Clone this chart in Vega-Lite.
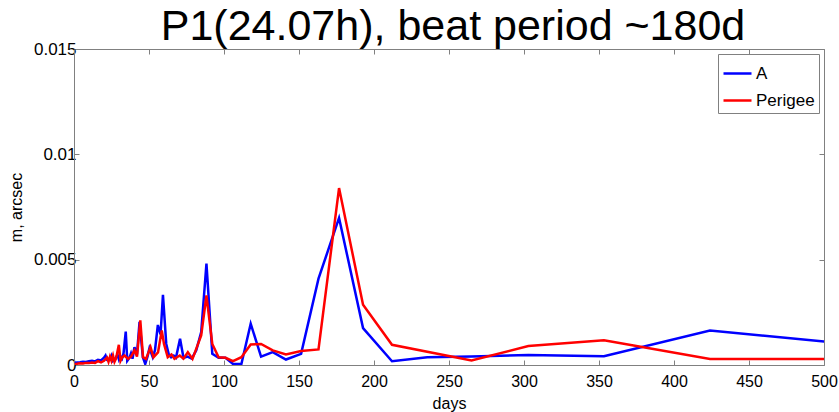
{
  "$schema": "https://vega.github.io/schema/vega-lite/v6.json",
  "autosize": "none",
  "padding": {"left": 74, "top": 49, "right": 15, "bottom": 47},
  "width": 750,
  "height": 316,
  "background": "white",
  "title": {
    "text": "P1(24.07h), beat period ~180d",
    "font": "Liberation Sans",
    "fontSize": 43,
    "fontWeight": "normal",
    "color": "black",
    "anchor": "middle",
    "baseline": "bottom",
    "offset": 0,
    "dx": 4,
    "dy": 52
  },
  "config": {
    "view": {"stroke": null},
    "font": "Liberation Sans",
    "axis": {
      "domainColor": "#808080",
      "tickColor": "#808080",
      "tickSize": -5,
      "grid": false,
      "labelFont": "Liberation Sans",
      "labelFontSize": 16,
      "labelColor": "black",
      "titleFont": "Liberation Sans",
      "titleFontSize": 16,
      "titleFontWeight": "normal",
      "titleColor": "black"
    },
    "legend": {
      "orient": "top-right",
      "offset": 5,
      "padding": 4,
      "strokeColor": "#808080",
      "fillColor": "white",
      "labelFont": "Liberation Sans",
      "labelFontSize": 17,
      "labelColor": "black",
      "labelOffset": 3,
      "rowPadding": 3,
      "symbolType": "stroke",
      "symbolSize": 784,
      "symbolStrokeWidth": 2.5,
      "title": null
    }
  },
  "data": {
    "values": [
      {"d": 0.5, "m": 0.00010, "s": "A"},
      {"d": 2, "m": 0.00012, "s": "A"},
      {"d": 4, "m": 0.00013, "s": "A"},
      {"d": 6, "m": 0.00015, "s": "A"},
      {"d": 8, "m": 0.00014, "s": "A"},
      {"d": 10, "m": 0.00018, "s": "A"},
      {"d": 12, "m": 0.00020, "s": "A"},
      {"d": 14, "m": 0.00017, "s": "A"},
      {"d": 16, "m": 0.00025, "s": "A"},
      {"d": 18, "m": 0.00022, "s": "A"},
      {"d": 20, "m": 0.00035, "s": "A"},
      {"d": 21, "m": 0.00045, "s": "A"},
      {"d": 22, "m": 0.00025, "s": "A"},
      {"d": 24, "m": 0.00030, "s": "A"},
      {"d": 25, "m": 0.00045, "s": "A"},
      {"d": 26, "m": 0.00020, "s": "A"},
      {"d": 28, "m": 0.00035, "s": "A"},
      {"d": 29, "m": 0.00050, "s": "A"},
      {"d": 30, "m": 0.00025, "s": "A"},
      {"d": 31, "m": 0.00040, "s": "A"},
      {"d": 32, "m": 0.00030, "s": "A"},
      {"d": 33, "m": 0.00055, "s": "A"},
      {"d": 34.5, "m": 0.00159, "s": "A"},
      {"d": 35.5, "m": 0.00020, "s": "A"},
      {"d": 37, "m": 0.00035, "s": "A"},
      {"d": 38, "m": 0.00055, "s": "A"},
      {"d": 39, "m": 0.00030, "s": "A"},
      {"d": 40.3, "m": 0.00085, "s": "A"},
      {"d": 42, "m": 0.00050, "s": "A"},
      {"d": 43.7, "m": 0.00205, "s": "A"},
      {"d": 45.9, "m": 0.00037, "s": "A"},
      {"d": 47.5, "m": 0.00005, "s": "A"},
      {"d": 49, "m": 0.00040, "s": "A"},
      {"d": 50.3, "m": 0.00080, "s": "A"},
      {"d": 52.5, "m": 0.00037, "s": "A"},
      {"d": 54, "m": 0.00070, "s": "A"},
      {"d": 55.9, "m": 0.00190, "s": "A"},
      {"d": 57.7, "m": 0.00145, "s": "A"},
      {"d": 59.3, "m": 0.00333, "s": "A"},
      {"d": 61.5, "m": 0.00100, "s": "A"},
      {"d": 63, "m": 0.00055, "s": "A"},
      {"d": 64.8, "m": 0.00037, "s": "A"},
      {"d": 66.5, "m": 0.00045, "s": "A"},
      {"d": 68, "m": 0.00035, "s": "A"},
      {"d": 70.7, "m": 0.00125, "s": "A"},
      {"d": 73, "m": 0.00034, "s": "A"},
      {"d": 75.7, "m": 0.00040, "s": "A"},
      {"d": 78.5, "m": 0.00030, "s": "A"},
      {"d": 81.5, "m": 0.00070, "s": "A"},
      {"d": 84.8, "m": 0.00156, "s": "A"},
      {"d": 88.3, "m": 0.00481, "s": "A"},
      {"d": 92.2, "m": 0.00053, "s": "A"},
      {"d": 96.4, "m": 0.00034, "s": "A"},
      {"d": 101, "m": 0.00034, "s": "A"},
      {"d": 106, "m": 0.00005, "s": "A"},
      {"d": 111.6, "m": 0.00005, "s": "A"},
      {"d": 117.8, "m": 0.00196, "s": "A"},
      {"d": 124.7, "m": 0.00040, "s": "A"},
      {"d": 132.5, "m": 0.00061, "s": "A"},
      {"d": 141.3, "m": 0.00026, "s": "A"},
      {"d": 151.4, "m": 0.00053, "s": "A"},
      {"d": 163, "m": 0.00410, "s": "A"},
      {"d": 176.7, "m": 0.00698, "s": "A"},
      {"d": 192.7, "m": 0.00175, "s": "A"},
      {"d": 212, "m": 0.00018, "s": "A"},
      {"d": 235.5, "m": 0.00037, "s": "A"},
      {"d": 265, "m": 0.00040, "s": "A"},
      {"d": 302.9, "m": 0.00048, "s": "A"},
      {"d": 353.3, "m": 0.00042, "s": "A"},
      {"d": 424, "m": 0.00164, "s": "A"},
      {"d": 530, "m": 0.00091, "s": "A"},
      {"d": 0.5, "m": 0.00005, "s": "Perigee"},
      {"d": 2, "m": 0.00006, "s": "Perigee"},
      {"d": 4, "m": 0.00008, "s": "Perigee"},
      {"d": 6, "m": 0.00007, "s": "Perigee"},
      {"d": 8, "m": 0.00010, "s": "Perigee"},
      {"d": 10, "m": 0.00009, "s": "Perigee"},
      {"d": 12, "m": 0.00012, "s": "Perigee"},
      {"d": 14, "m": 0.00010, "s": "Perigee"},
      {"d": 16, "m": 0.00018, "s": "Perigee"},
      {"d": 18, "m": 0.00012, "s": "Perigee"},
      {"d": 20, "m": 0.00020, "s": "Perigee"},
      {"d": 22, "m": 0.00035, "s": "Perigee"},
      {"d": 23, "m": 0.00015, "s": "Perigee"},
      {"d": 24, "m": 0.00040, "s": "Perigee"},
      {"d": 25, "m": 0.00020, "s": "Perigee"},
      {"d": 26, "m": 0.00045, "s": "Perigee"},
      {"d": 27, "m": 0.00015, "s": "Perigee"},
      {"d": 28, "m": 0.00030, "s": "Perigee"},
      {"d": 29.9, "m": 0.00096, "s": "Perigee"},
      {"d": 31, "m": 0.00020, "s": "Perigee"},
      {"d": 32, "m": 0.00035, "s": "Perigee"},
      {"d": 33.7, "m": 0.00045, "s": "Perigee"},
      {"d": 36, "m": 0.00029, "s": "Perigee"},
      {"d": 38, "m": 0.00040, "s": "Perigee"},
      {"d": 40.3, "m": 0.00069, "s": "Perigee"},
      {"d": 42, "m": 0.00040, "s": "Perigee"},
      {"d": 44.2, "m": 0.00212, "s": "Perigee"},
      {"d": 46, "m": 0.00037, "s": "Perigee"},
      {"d": 48, "m": 0.00029, "s": "Perigee"},
      {"d": 51, "m": 0.00085, "s": "Perigee"},
      {"d": 53, "m": 0.00037, "s": "Perigee"},
      {"d": 56, "m": 0.00060, "s": "Perigee"},
      {"d": 58.5, "m": 0.00164, "s": "Perigee"},
      {"d": 60, "m": 0.00100, "s": "Perigee"},
      {"d": 62.5, "m": 0.00037, "s": "Perigee"},
      {"d": 65, "m": 0.00050, "s": "Perigee"},
      {"d": 67, "m": 0.00029, "s": "Perigee"},
      {"d": 70.5, "m": 0.00045, "s": "Perigee"},
      {"d": 73, "m": 0.00030, "s": "Perigee"},
      {"d": 75.9, "m": 0.00061, "s": "Perigee"},
      {"d": 79, "m": 0.00029, "s": "Perigee"},
      {"d": 84.8, "m": 0.00140, "s": "Perigee"},
      {"d": 88.3, "m": 0.00330, "s": "Perigee"},
      {"d": 92.2, "m": 0.00100, "s": "Perigee"},
      {"d": 96.4, "m": 0.00037, "s": "Perigee"},
      {"d": 101, "m": 0.00034, "s": "Perigee"},
      {"d": 106, "m": 0.00018, "s": "Perigee"},
      {"d": 111.6, "m": 0.00037, "s": "Perigee"},
      {"d": 117.8, "m": 0.00097, "s": "Perigee"},
      {"d": 124.7, "m": 0.00100, "s": "Perigee"},
      {"d": 132.5, "m": 0.00069, "s": "Perigee"},
      {"d": 141.3, "m": 0.00050, "s": "Perigee"},
      {"d": 151.4, "m": 0.00066, "s": "Perigee"},
      {"d": 163, "m": 0.00074, "s": "Perigee"},
      {"d": 176.7, "m": 0.00840, "s": "Perigee"},
      {"d": 192.7, "m": 0.00286, "s": "Perigee"},
      {"d": 212, "m": 0.00096, "s": "Perigee"},
      {"d": 265, "m": 0.00021, "s": "Perigee"},
      {"d": 302.9, "m": 0.00090, "s": "Perigee"},
      {"d": 353.3, "m": 0.00117, "s": "Perigee"},
      {"d": 424, "m": 0.00029, "s": "Perigee"},
      {"d": 530, "m": 0.00029, "s": "Perigee"}
    ]
  },
  "layer": [
    {
      "mark": {"type": "line", "strokeWidth": 2.5, "clip": true},
      "encoding": {
        "x": {
          "field": "d",
          "type": "quantitative",
          "scale": {"domain": [0, 500], "nice": false, "zero": false},
          "axis": {"title": "days", "values": [0, 50, 100, 150, 200, 250, 300, 350, 400, 450, 500], "labelPadding": 13, "titlePadding": 6, "labelFlush": false}
        },
        "y": {
          "field": "m",
          "type": "quantitative",
          "scale": {"domain": [0, 0.015], "nice": false},
          "axis": {"title": "m, arcsec", "values": [0, 0.005, 0.01, 0.015], "format": ".3~f", "labelPadding": 3, "titlePadding": 9, "labelFontSize": 17}
        },
        "color": {
          "field": "s",
          "type": "nominal",
          "scale": {"domain": ["A", "Perigee"], "range": ["#0000ff", "#ff0000"]},
          "legend": {"title": null}
        }
      }
    },
    {
      "mark": {"type": "line", "strokeOpacity": 0, "clip": true},
      "encoding": {
        "x": {
          "field": "d",
          "type": "quantitative",
          "axis": {"orient": "top", "title": null, "labels": false, "values": [0, 50, 100, 150, 200, 250, 300, 350, 400, 450, 500]}
        },
        "y": {
          "field": "m",
          "type": "quantitative",
          "axis": {"orient": "right", "title": null, "labels": false, "values": [0, 0.005, 0.01, 0.015]}
        }
      }
    }
  ],
  "resolve": {"axis": {"x": "independent", "y": "independent"}}
}
